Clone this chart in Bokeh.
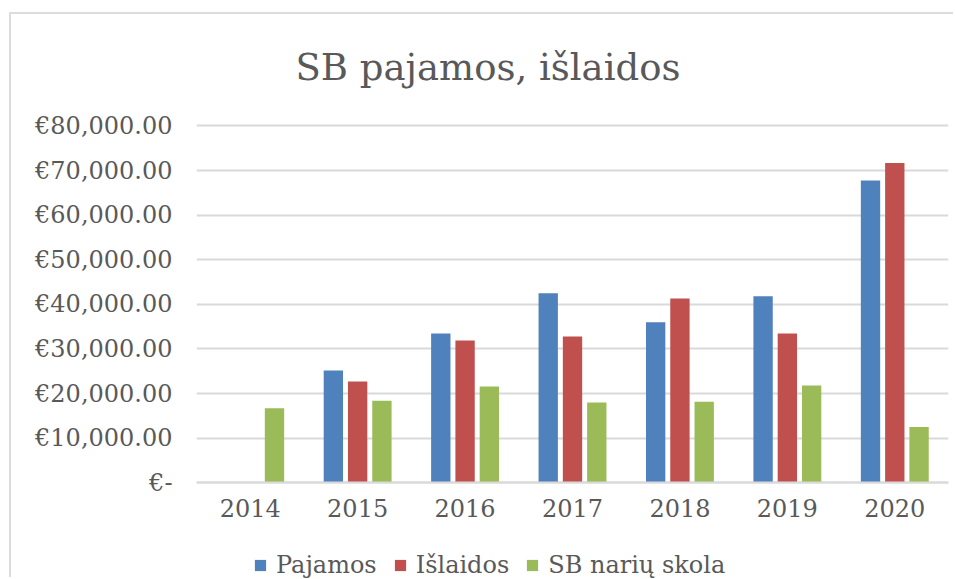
from bokeh.plotting import figure
from bokeh.models import (ColumnDataSource, FactorRange, Range1d, Legend, LegendItem,
                          CustomJSTickFormatter, FixedTicker, Label)
from bokeh.transform import dodge
from bokeh.embed import file_html
from bokeh.resources import INLINE

years = ["2014", "2015", "2016", "2017", "2018", "2019", "2020"]
pajamos = [0, 25200, 33500, 42500, 36000, 41800, 67800]
islaidos = [0, 22700, 31900, 32800, 41300, 33500, 71700]
skola = [16700, 18400, 21600, 18000, 18200, 21800, 12500]
series_names = ["Pajamos", "Išlaidos", "SB narių skola"]
colors = ["#4F81BD", "#C0504D", "#9BBB59"]
y_ticks = [0, 10000, 20000, 30000, 40000, 50000, 60000, 70000, 80000]
title_text = "SB pajamos, išlaidos"

FONT = "DejaVu Serif"
TXT = "#595959"
GRID = "#d9d9d9"

src = ColumnDataSource(dict(years=years, pajamos=pajamos, islaidos=islaidos, skola=skola))

# frame spans the whole chart area so that title and legend (drawn inside it) are not clipped
p = figure(x_range=FactorRange(*years), y_range=Range1d(-21682, 105000),
           width=944, height=565, output_backend="svg", toolbar_location=None,
           min_border_left=185, min_border_right=7, min_border_top=0, min_border_bottom=0,
           styles={"border-top": "2px solid #dcdcdc", "border-left": "2px solid #dcdcdc",
                   "margin-top": "12px", "margin-left": "9px"})
p.title = None
p.outline_line_color = None
p.background_fill_color = "white"
p.border_fill_color = "white"

bw = 0.18
off = 0.226
renderers = []
for field, dx, c in zip(["pajamos", "islaidos", "skola"], [-off, 0, off], colors):
    r = p.vbar(x=dodge("years", dx, range=p.x_range), top=field, width=bw, source=src,
               fill_color=c, line_color=None)
    renderers.append(r)

# axes
p.yaxis.ticker = FixedTicker(ticks=y_ticks)
p.yaxis.formatter = CustomJSTickFormatter(code="""
    if (tick == 0) { return "€-"; }
    return "€" + tick.toLocaleString('en-US', {minimumFractionDigits: 2, maximumFractionDigits: 2});
""")
p.yaxis.axis_line_color = None
p.yaxis.major_tick_line_color = None
p.yaxis.minor_tick_line_color = None
p.yaxis.major_label_text_font = FONT
p.yaxis.major_label_text_font_size = "24px"
p.yaxis.major_label_text_color = TXT
p.yaxis.major_label_standoff = 18

p.xaxis.fixed_location = 0
p.xaxis.axis_line_color = GRID
p.xaxis.axis_line_width = 2
p.xaxis.major_tick_line_color = None
p.xaxis.minor_tick_line_color = None
p.xaxis.major_label_text_font = FONT
p.xaxis.major_label_text_font_size = "24px"
p.xaxis.major_label_text_color = TXT
p.xaxis.major_label_standoff = 10

p.xgrid.grid_line_color = None
p.ygrid.grid_line_color = GRID
p.ygrid.grid_line_width = 2

title = Label(x=0.9216, y=93100, text=title_text, text_font=FONT, text_font_size="37px",
              text_color=TXT, text_align="left", text_baseline="alphabetic")
p.add_layout(title)

legend = Legend(items=[LegendItem(label=n, renderers=[r]) for n, r in zip(series_names, renderers)],
                orientation="horizontal", location=(57, 0),
                label_text_font=FONT, label_text_font_size="24px", label_text_color=TXT,
                glyph_width=14, glyph_height=14, label_standoff=9, spacing=16,
                padding=0, margin=0, border_line_color=None, background_fill_alpha=0)
p.add_layout(legend)

open("out.html", "w").write(file_html(p, INLINE))
